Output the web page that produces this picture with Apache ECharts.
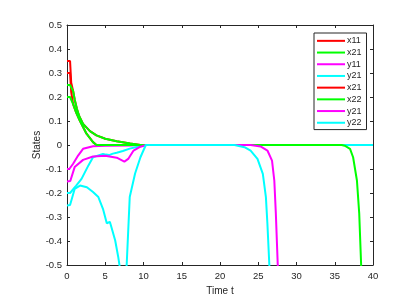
<!DOCTYPE html>
<html>
<head>
<meta charset="utf-8">
<script src="https://cdn.jsdelivr.net/npm/echarts@6/dist/echarts.min.js"></script>
<style>html,body{margin:0;padding:0;background:#fff}#c{width:401px;height:298px}</style>
</head>
<body>
<div id="c"></div>
<script>
// Series names (legend order as in the reference)
var names = ['x11', 'x21', 'y11', 'y21', 'x21', 'x22', 'y21', 'y22'];
var colors = ['#ff0000', '#00ff00', '#ff00ff', '#00ffff', '#ff0000', '#00ff00', '#ff00ff', '#00ffff'];

// x11 (red, starts 0.35)
var t1 = [0, 0.4, 0.55, 0.8, 1.0, 1.3, 1.6, 2.1, 3.0, 3.85, 5, 6.5, 8.25, 9.6, 40];
var v1 = [0.35, 0.35, 0.26, 0.225, 0.19, 0.15, 0.12, 0.088, 0.058, 0.04, 0.026, 0.016, 0.006, 0, 0];
// x21 (green, starts 0.25, slow decay)
var t2 = [0, 0.4, 0.8, 1.0, 1.3, 1.6, 2.1, 3.0, 3.85, 5, 6.5, 8.25, 9.6, 40];
var v2 = [0.25, 0.25, 0.225, 0.19, 0.15, 0.12, 0.088, 0.058, 0.04, 0.026, 0.016, 0.006, 0, 0];
// y11 (magenta, starts -0.1)
var t3 = [0, 0.3, 0.8, 1.45, 2.1, 3.4, 5, 8.3, 9.5, 40];
var v3 = [-0.1, -0.1, -0.078, -0.044, -0.016, -0.005, -0.003, -0.002, 0, 0];
// y21 (cyan, starts -0.2)
var t4 = [0, 0.4, 1.2, 1.9, 2.8, 3.4, 4.7, 5.1, 5.5, 6.0, 6.5, 7.3, 8.2, 9.1, 10.3, 40];
var v4 = [-0.2, -0.2, -0.169, -0.141, -0.085, -0.051, -0.037, -0.04, -0.042, -0.036, -0.032, -0.025, -0.015, -0.008, 0, 0];
// x21 (red, starts 0.3)
var t5 = [0, 0.4, 0.55, 0.8, 1.2, 1.67, 2.55, 3.4, 3.85, 40];
var v5 = [0.3, 0.3, 0.22, 0.17, 0.135, 0.102, 0.047, 0.012, 0, 0];
// x22 (green, starts 0.2, fast decay, diverges near t=38)
var t6 = [0, 0.4, 0.8, 1.2, 1.67, 2.55, 3.4, 3.85, 35.9, 36.3, 37.0, 37.4, 37.9, 38.2, 38.45, 38.6];
var v6 = [0.2, 0.2, 0.17, 0.135, 0.102, 0.047, 0.012, 0, 0, -0.003, -0.016, -0.051, -0.148, -0.286, -0.5, -0.6];
// y21 (magenta, starts -0.15, diverges near t=27.5)
var t7 = [0, 0.43, 1.0, 2.1, 3.4, 5.0, 6.5, 7.5, 8.0, 8.7, 9.6, 10.4, 24.0, 25.3, 26.2, 26.8, 27.1, 27.3, 27.55, 27.7];
var v7 = [-0.152, -0.15, -0.092, -0.062, -0.048, -0.045, -0.053, -0.069, -0.058, -0.023, -0.007, 0, 0, -0.006, -0.023, -0.065, -0.148, -0.286, -0.5, -0.6];
// y22 (cyan, starts -0.25, dips below -0.5, diverges near t=26.3)
var t8 = [0, 0.4, 1.0, 1.7, 2.6, 3.4, 4.1, 4.7, 5.2, 5.6, 5.8, 6.3, 6.7, 7.0, 7.4, 7.8, 8.2, 8.9, 9.6, 10.3, 21.9, 23.2, 24.0, 24.9, 25.6, 26.0, 26.2, 26.45, 26.6];
var v8 = [-0.252, -0.25, -0.183, -0.169, -0.176, -0.196, -0.217, -0.266, -0.326, -0.32, -0.342, -0.398, -0.467, -0.53, -0.6, -0.5, -0.217, -0.119, -0.051, 0, 0, -0.009, -0.023, -0.058, -0.12, -0.217, -0.33, -0.5, -0.6];

var xTicks = [0, 5, 10, 15, 20, 25, 30, 35, 40];
var yTicks = [-0.5, -0.4, -0.3, -0.2, -0.1, 0, 0.1, 0.2, 0.3, 0.4, 0.5];

var ts = [t1, t2, t3, t4, t5, t6, t7, t8];
var vs = [v1, v2, v3, v4, v5, v6, v7, v8];
var zs = [1, 2, 2, 2, 1, 2, 2, 2];

function pairs(t, v) { return t.map(function (x, i) { return [x, v[i]]; }); }

var axisColor = '#262626';
var font = 'Liberation Sans, Arial';
var series = names.map(function (n, i) {
  return {
    name: n + (i >= 4 ? ' ' : ''),
    type: 'line',
    data: pairs(ts[i], vs[i]),
    symbol: 'none',
    clip: true,
    z: zs[i],
    lineStyle: { color: colors[i], width: 2 },
    itemStyle: { color: colors[i] },
    emphasis: { disabled: true },
    animation: false
  };
});

function axisCommon(extra) {
  var base = {
    type: 'value',
    nameMoveOverlap: false,
    axisLine: { show: true, onZero: false, lineStyle: { color: axisColor, width: 1 } },
    axisTick: { show: true, inside: true, length: 3, lineStyle: { color: axisColor } },
    splitLine: { show: false }
  };
  for (var k in extra) base[k] = extra[k];
  return base;
}

var chart = echarts.init(document.getElementById('c'), null, { renderer: 'canvas' });
chart.setOption({
  backgroundColor: '#ffffff',
  animation: false,
  grid: { left: 67, right: 28, top: 25, bottom: 33, containLabel: false, outerBoundsMode: 'none' },
  legend: {
    orient: 'vertical',
    left: 314, top: 33,
    padding: [2, 5, 1, 3],
    itemGap: 0,
    itemWidth: 28, itemHeight: 2,
    icon: 'rect',
    backgroundColor: '#ffffff',
    borderColor: axisColor, borderWidth: 1,
    textStyle: { fontFamily: font, fontSize: 9, color: axisColor, lineHeight: 11.7, padding: [0, 0, 0, -3] },
    formatter: function (n) { return n.trim(); },
    data: series.map(function (s) { return s.name; })
  },
  xAxis: [
    axisCommon({
      min: xTicks[0], max: xTicks[xTicks.length - 1], interval: 5,
      name: 'Time t', nameLocation: 'middle', nameGap: 21,
      nameTextStyle: { fontFamily: font, fontSize: 10, color: axisColor },
      axisLabel: { fontFamily: font, fontSize: 9.5, color: axisColor, margin: 6 }
    }),
    axisCommon({
      position: 'top', min: xTicks[0], max: xTicks[xTicks.length - 1], interval: 5,
      axisLabel: { show: false }
    })
  ],
  yAxis: [
    axisCommon({
      min: yTicks[0], max: yTicks[yTicks.length - 1], interval: 0.1,
      name: 'States', nameLocation: 'middle', nameGap: 25,
      nameTextStyle: { fontFamily: font, fontSize: 10, color: axisColor },
      axisLabel: {
        fontFamily: font, fontSize: 9.5, color: axisColor, margin: 5,
        formatter: function (v) { var r = Math.round(v * 10) / 10; return r === 0 ? '0' : String(r); }
      }
    }),
    axisCommon({
      position: 'right', min: yTicks[0], max: yTicks[yTicks.length - 1], interval: 0.1,
      axisLabel: { show: false }
    })
  ],
  series: series
});
</script>
</body>
</html>
